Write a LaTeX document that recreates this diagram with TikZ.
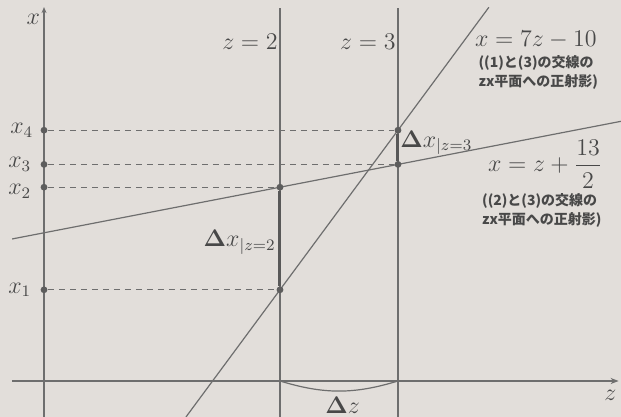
\documentclass[tikz,border=0pt]{standalone}
\usepackage{amsmath,amssymb}
\usepackage[no-math]{fontspec}
\usepackage{tikz}
\usepackage{xcolor}
\usetikzlibrary{arrows.meta, positioning}
\newfontfamily\jpfont{Noto Sans CJK JP}
\definecolor{bgcol}{RGB}{226,222,218}
\definecolor{linecol}{RGB}{110,110,110}
\definecolor{textcol}{RGB}{72,72,72}
\tikzstyle{axis} = [linecol, line width=0.7pt]
\tikzstyle{graphline} = [linecol, line width=0.6pt]
\tikzstyle{guide} = [linecol, line width=0.5pt, dashed, dash pattern=on 3pt off 2.5pt]
\tikzstyle{dot} = [circle, fill=linecol!85!black, inner sep=0pt, minimum size=3.4pt]
\tikzstyle{jpnote} = [align=left, font=\jpfont\bfseries\fontsize{7}{9.5}\selectfont, text=textcol, inner sep=0pt]

\begin{document}
\begin{tikzpicture}[x=59pt, y=11.4pt, font=\fontsize{11.5}{14}\selectfont, text=textcol]
    % Background
    \fill[bgcol] (-0.373,-1.579) rectangle (4.890,16.711);
    \useasboundingbox (-0.373,-1.579) rectangle (4.890,16.711);

    % Axes
    \draw[axis, -{Stealth[length=4pt, width=3pt]}] (-0.27,0) -- (4.87,0);
    \draw[axis, -{Stealth[length=3pt, width=2.5pt]}] (0,-1.579) -- (0,16.4);
    \node (xlab) at (-0.09,15.85) {$x$};
    \node (zlab) at (4.80,-0.61) {$z$};

    % Lines z = 2 and z = 3
    \draw[graphline] (2,-1.579) -- (2,16.36);
    \draw[graphline] (3,-1.579) -- (3,16.36);
    \node[left, inner sep=1pt] (ztwo) at (2,14.87) {$z=2$};
    \node[left, inner sep=1pt] (zthree) at (3,14.87) {$z=3$};

    % The two projected lines
    \draw[graphline] (-0.27,6.23) -- (4.89,11.39);
    \draw[graphline] (1.203,-1.579) -- (3.77,16.39);

    % Points on the lines
    \node[dot] (p1) at (2,4) {};
    \node[dot] (p2) at (2,8.5) {};
    \node[dot] (p3) at (3,9.5) {};
    \node[dot] (p4) at (3,11) {};

    % Points on the x axis
    \node[dot] (a1) at (0,4) {};
    \node[dot] (a2) at (0,8.5) {};
    \node[dot] (a3) at (0,9.5) {};
    \node[dot] (a4) at (0,11) {};
    \node[left=1pt of a1] {$x_1$};
    \node[left=1pt of a2, yshift=-2pt] {$x_2$};
    \node[left=1pt of a3] {$x_3$};
    \node[left=0pt of a4] {$x_4$};

    \draw[guide] (a1) -- (p1);
    \draw[guide] (a2) -- (p2);
    \draw[guide] (a3) -- (p3);
    \draw[guide] (a4) -- (p4);

    % Increments
    \draw[linecol!80!black, line width=1.5pt] (p1) -- (p2);
    \draw[linecol!80!black, line width=1.5pt] (p3) -- (p4);
    \node[left, inner sep=2pt] (dxtwo) at (2,6.1) {$\boldsymbol{\Delta} x_{|z=2}$};
    \node[right, inner sep=1pt] (dxthree) at (3,10.45) {$\boldsymbol{\Delta} x_{|z=3}$};

    \coordinate (ztwo0) at (2,0);
    \coordinate (zthree0) at (3,0);
    \draw[graphline] (ztwo0) to[bend right=17] (zthree0);
    \node (dz) at (2.53,-1.05) {$\boldsymbol{\Delta} z$};

    % Equations of the lines
    \node[anchor=west, inner sep=0pt] (eqone) at (3.65,14.96) {$x=7z-10$};
    \node[jpnote, anchor=west] (noteone) at (3.68,13.53) {((1)と(3)の交線の\\zx平面への正射影)};
    \node[anchor=west, inner sep=0pt] (eqtwo) at (3.76,9.52) {$x=z+\dfrac{13}{2}$};
    \node[jpnote, anchor=west] (notetwo) at (3.71,7.46) {((2)と(3)の交線の\\zx平面への正射影)};
\end{tikzpicture}
\end{document}
